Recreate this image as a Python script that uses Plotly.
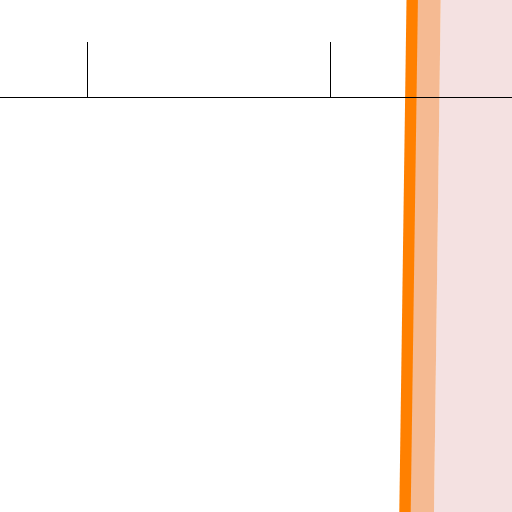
import plotly.graph_objects as go

# data
edge_y = [-0.05, 1.05]               # bottom, top
trend_x = [2.3051, 2.3377]           # central line
band_right_x = [2.4245, 2.4549]      # right edge of light band
region_right_x = 2.8                 # pink region extends past the right edge
tick_values = [1, 2]

fig = go.Figure()

# pink region
fig.add_trace(go.Scatter(
    x=[band_right_x[0], band_right_x[1], region_right_x, region_right_x],
    y=[edge_y[0], edge_y[1], edge_y[1], edge_y[0]],
    fill="toself", mode="lines", line=dict(width=0),
    fillcolor="#F4E1E1", hoverinfo="skip", showlegend=False))

# light orange band
fig.add_trace(go.Scatter(
    x=[trend_x[0], trend_x[1], band_right_x[1], band_right_x[0]],
    y=[edge_y[0], edge_y[1], edge_y[1], edge_y[0]],
    fill="toself", mode="lines", line=dict(width=0),
    fillcolor="#F5BA92", hoverinfo="skip", showlegend=False))

# orange line
fig.add_trace(go.Scatter(
    x=trend_x, y=edge_y, mode="lines",
    line=dict(color="#FF8000", width=11.4), showlegend=False))

fig.update_layout(
    width=512, height=512,
    margin=dict(l=0, r=0, t=0, b=0),
    paper_bgcolor="white", plot_bgcolor="white",
    xaxis=dict(range=[0.6399, 2.7469], anchor="free", position=1 - 96.5 / 512,
               side="top", showline=True, linecolor="black", linewidth=1,
               ticks="outside", ticklen=54.5, tickwidth=1.2, tickcolor="black",
               tickvals=tick_values, showticklabels=False,
               showgrid=False, zeroline=False),
    yaxis=dict(range=[0, 1], visible=False, showgrid=False, zeroline=False),
)

fig.write_html("out.html", config={"displayModeBar": False},
               post_script="document.body.style.margin='0';document.body.style.overflow='hidden';")
